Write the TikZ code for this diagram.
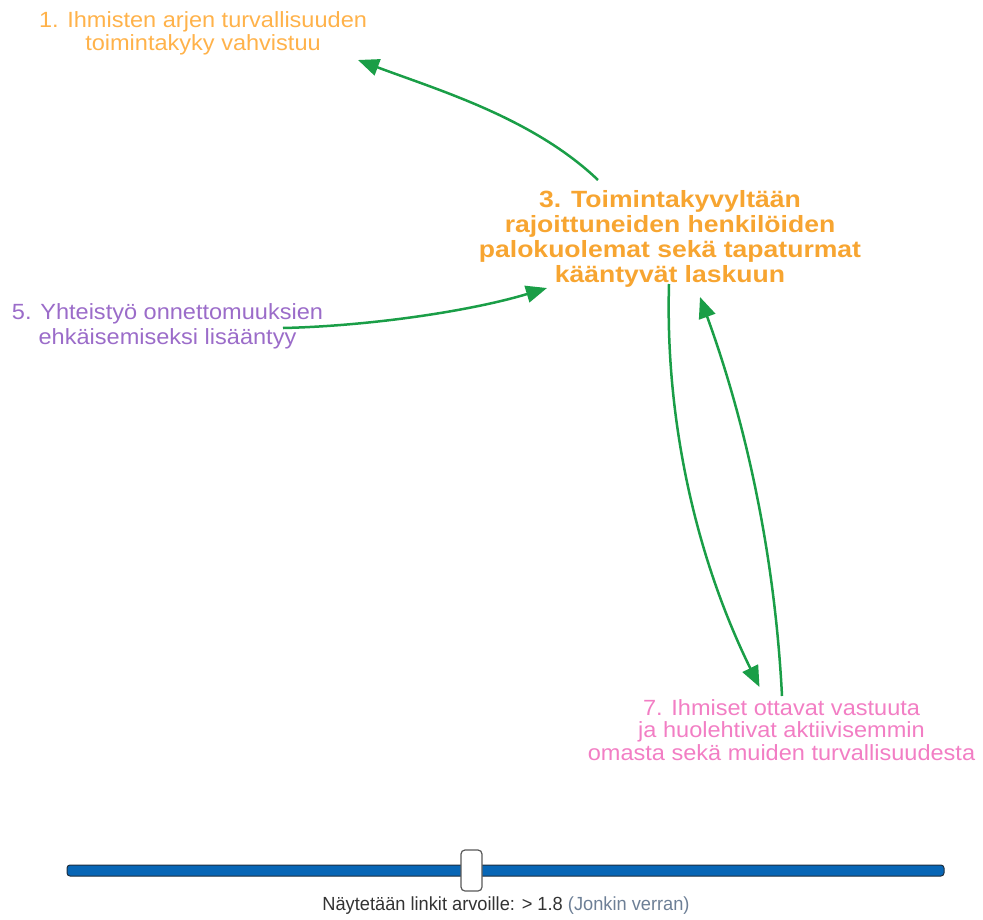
\documentclass[tikz,border=0pt]{standalone}
\usepackage{fontspec}
\setmainfont{Liberation Sans}
\newfontfamily\regwide[FakeStretch=1.07]{Liberation Sans}
\newfontfamily\boldwide[FakeStretch=1.13]{Liberation Sans}
\newfontfamily\capfont[FakeStretch=0.96]{Liberation Sans}
\usetikzlibrary{arrows.meta,calc}
\definecolor{linkgreen}{HTML}{1A9E47}
\definecolor{orangeA}{HTML}{FFB24A}
\definecolor{orangeB}{HTML}{F7A531}
\definecolor{purpleA}{HTML}{9B6CC9}
\definecolor{pinkA}{HTML}{F27EC4}
\definecolor{trackblue}{HTML}{0766B6}
\definecolor{trackedge}{HTML}{1E2E3E}
\definecolor{capdark}{HTML}{333333}
\definecolor{capgray}{HTML}{6D7F96}
\begin{document}
\begin{tikzpicture}[x=1pt,y=-1pt,
  lbl/.style={align=center,inner sep=0pt,anchor=north},
  link/.style={draw=linkgreen,line width=2.5pt,-{Triangle[length=21pt,width=17pt]}},
  track/.style={draw=trackedge,fill=trackblue,line width=1pt,rounded corners=3pt,minimum width=877pt,minimum height=11pt,inner sep=0pt},
  thumb/.style={draw=black!65,fill=white,line width=1.2pt,rounded corners=4pt,minimum width=21pt,minimum height=41pt,inner sep=0pt},
  caption/.style={inner sep=0pt,font=\capfont\fontsize{19}{22}\selectfont}]
\useasboundingbox (0,0) rectangle (983,919);

\node[lbl,text=orangeA,font=\regwide\fontsize{22}{23}\selectfont] (n1) at (203,11)
  {1. Ihmisten arjen turvallisuuden\\toimintakyky vahvistuu};
\node[lbl,text=orangeB,font=\boldwide\bfseries\fontsize{23.5}{25}\selectfont] (n3) at (670,190)
  {3. Toimintakyvyltään\\rajoittuneiden henkilöiden\\palokuolemat sekä tapaturmat\\kääntyvät laskuun};
\node[lbl,text=purpleA,font=\regwide\fontsize{22}{25}\selectfont] (n5) at (167.5,303)
  {5. Yhteistyö onnettomuuksien\\ehkäisemiseksi lisääntyy};
\node[lbl,text=pinkA,font=\regwide\fontsize{22}{22.5}\selectfont] (n7) at (781.5,699)
  {7. Ihmiset ottavat vastuuta\\ja huolehtivat aktiivisemmin\\omasta sekä muiden turvallisuudesta};

\draw[link] ($(n3.north)+(-72,-10)$) .. controls +(-65,-62) and +(80,30) .. ($(n1.north)+(155,49)$);
\draw[link] ($(n5.north)+(115.5,25)$) .. controls +(87,-2) and +(-76,23) .. ($(n3.north)+(-123,98)$);
\draw[link] ($(n3.north)+(-1,94)$) .. controls +(-4,140) and +(-62,-126) .. ($(n7.north)+(-22,-12)$);
\draw[link] ($(n7.north)+(0.5,-3)$) .. controls +(-7,-138) and +(47,129) .. ($(n3.north)+(30,107)$);

\node[track] (slider) at (505.5,870.5) {};
\node[thumb] (knob) at (471.5,870.5) {};
\node[caption] (cap) at (506,906) {\textcolor{capdark}{Näytetään linkit arvoille: > 1.8} \textcolor{capgray}{(Jonkin verran)}};
\end{tikzpicture}
\end{document}
